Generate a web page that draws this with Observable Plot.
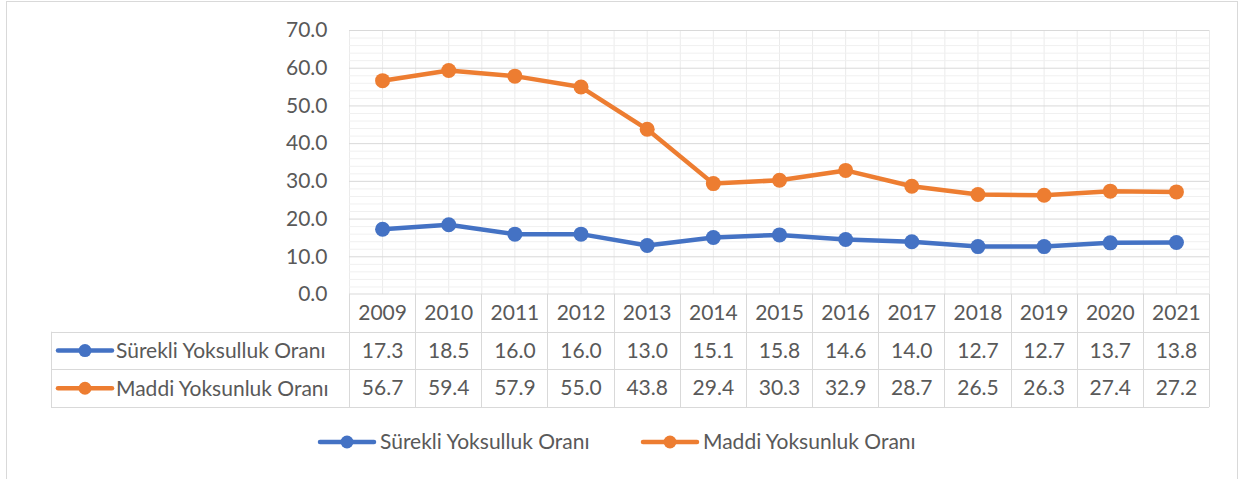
<!DOCTYPE html>
<html><head><meta charset="utf-8">
<script src="https://cdn.jsdelivr.net/npm/d3@7"></script>
<script src="https://cdn.jsdelivr.net/npm/@observablehq/plot@0.6"></script>
<style>body{margin:0;background:#fff;} #chart{width:1242px;height:479px;overflow:hidden;}</style>
</head><body><div id="chart"></div>
<script>
const years = [2009,2010,2011,2012,2013,2014,2015,2016,2017,2018,2019,2020,2021];
const surekli = [17.3,18.5,16.0,16.0,13.0,15.1,15.8,14.6,14.0,12.7,12.7,13.7,13.8];
const maddi = [56.7,59.4,57.9,55.0,43.8,29.4,30.3,32.9,28.7,26.5,26.3,27.4,27.2];
const seriesNames = ["Sürekli Yoksulluk Oranı","Maddi Yoksunluk Oranı"];
const seriesColors = ["#4472C4","#ED7D31"];
const yTicks = [0,10,20,30,40,50,60,70];

const rows = [];
years.forEach((y,i)=>{
  rows.push({year:y, value:surekli[i], series:seriesNames[0]});
  rows.push({year:y, value:maddi[i], series:seriesNames[1]});
});

const W=1242, H=479, mL=349, mR=33, mT=30, mB=185;
const rowH = 37.7;
const FONT = "Lato, 'Open Sans', sans-serif";
const FS = 21;
const TXT = "#595959";
const GRID = "#d9d9d9";

const tableText = [];
years.forEach((y,i)=>{
  tableText.push({year:y, row:0, label:String(y)});
  tableText.push({year:y, row:1, label:surekli[i].toFixed(1)});
  tableText.push({year:y, row:2, label:maddi[i].toFixed(1)});
});

const plot = Plot.plot({
  width:W, height:H, marginLeft:mL, marginRight:mR, marginTop:mT, marginBottom:mB,
  style:{fontFamily:FONT, fontSize:FS+"px", color:TXT, background:"#fff", overflow:"visible"},
  x:{domain:[years[0]-0.5, years[years.length-1]+0.5], axis:null},
  y:{domain:[0,70], axis:null},
  color:{domain:seriesNames, range:seriesColors},
  marks:[
    Plot.ruleX(d3.range(0, years.length*2+1).map(k=>years[0]-0.5+k*0.5), {stroke:"#ebebeb", strokeWidth:1}),
    Plot.ruleY(d3.range(0,70.1,2).filter(v=>v%10!==0), {stroke:"#f0f0f0", strokeWidth:1}),
    Plot.ruleY(yTicks.filter(v=>v>0), {stroke:GRID, strokeWidth:1}),
    Plot.axisY(yTicks, {tickSize:0, tickPadding:22, label:null, tickFormat:d=>d.toFixed(1), fontSize:FS, fill:TXT, fontFamily:FONT}),
    Plot.line(rows, {x:"year", y:"value", stroke:"series", strokeWidth:4.5}),
    Plot.dot(rows, {x:"year", y:"value", fill:"series", r:7.5}),
    ...[0,1,2].map(r=>Plot.text(tableText.filter(d=>d.row===r), {x:"year", text:"label", frameAnchor:"bottom", lineAnchor:"middle", dy:rowH*r+rowH/2, fill:TXT, fontSize:FS}))
  ]
});
document.getElementById("chart").appendChild(plot);

const svg = d3.select(plot);
const xs = plot.scale("x").apply, ys = plot.scale("y").apply;
const top0 = ys(0);
const tableLeft = 51;
const xr = xs(years[years.length-1]+0.5);
const g = svg.append("g").attr("stroke", GRID).attr("stroke-width",1).attr("fill","none");
g.append("line").attr("x1", xs(years[0]-0.5)).attr("x2", xr).attr("y1", top0).attr("y2", top0);
for (let r=1;r<=3;r++){
  const y = Math.round(top0 + rowH*r)+0.5;
  g.append("line").attr("x1", tableLeft).attr("x2", xr).attr("y1", y).attr("y2", y);
}
for (let k=0;k<=years.length;k++){
  const x = Math.round(xs(years[0]-0.5+k))+0.5;
  g.append("line").attr("x1", x).attr("x2", x).attr("y1", top0).attr("y2", top0+rowH*3);
}
g.append("line").attr("x1", tableLeft+0.5).attr("x2", tableLeft+0.5).attr("y1", top0+rowH).attr("y2", top0+rowH*3);

function key(parent, cx, cy, color, len){
  parent.append("line").attr("x1", cx-len/2).attr("x2", cx+len/2).attr("y1", cy).attr("y2", cy)
    .attr("stroke", color).attr("stroke-width", 4.5).attr("stroke-linecap","round");
  parent.append("circle").attr("cx", cx).attr("cy", cy).attr("r", 6.5).attr("fill", color);
}
seriesNames.forEach((name,i)=>{
  const cy = top0 + rowH*(i+1) + rowH/2;
  key(svg, 85, cy, seriesColors[i], 54);
  svg.append("text").attr("x", 116).attr("y", cy).attr("dy","0.35em").attr("fill",TXT)
    .attr("text-anchor","start").attr("font-family",FONT).attr("font-size",FS).text(name);
});
const legX = [347, 670];
seriesNames.forEach((name,i)=>{
  const cy = 442;
  key(svg, legX[i], cy, seriesColors[i], 54);
  svg.append("text").attr("x", legX[i]+33).attr("y", cy).attr("dy","0.35em").attr("fill",TXT)
    .attr("text-anchor","start").attr("font-family",FONT).attr("font-size",FS).text(name);
});
svg.append("rect").attr("x",6.5).attr("y",1.5).attr("width",1231).attr("height",500)
  .attr("fill","none").attr("stroke","#d9d9d9");
</script>
</body></html>
